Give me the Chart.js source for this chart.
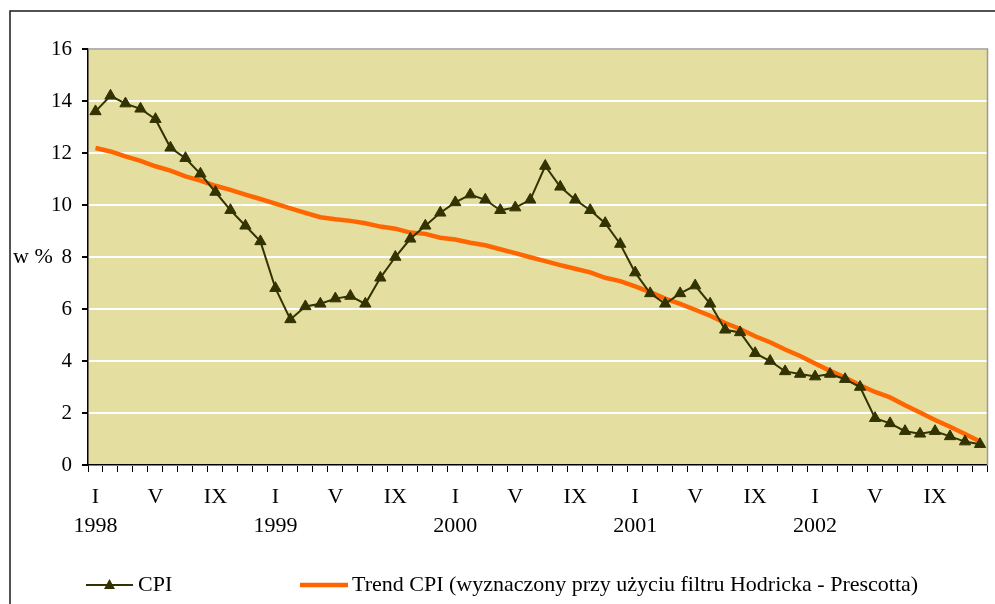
<!DOCTYPE html>
<html>
<head>
<meta charset="utf-8">
<script src="https://cdn.jsdelivr.net/npm/chart.js@4/dist/chart.umd.min.js"></script>
<style>
  html, body { margin: 0; padding: 0; background: #fff; }
  #cpi-chart { display: block; }
</style>
</head>
<body>
<canvas id="cpi-chart" width="995" height="604"></canvas>
<script>
var years = ['1998', '1999', '2000', '2001', '2002'];
var romanMonths = ['I', 'II', 'III', 'IV', 'V', 'VI', 'VII', 'VIII', 'IX', 'X', 'XI', 'XII'];
var shownMonths = ['I', 'V', 'IX'];
var yTicks = [0, 2, 4, 6, 8, 10, 12, 14, 16];

var seriesNames = ['CPI', 'Trend CPI (wyznaczony przy użyciu filtru Hodricka - Prescotta)'];

var cpiValues = [
  13.6, 14.2, 13.9, 13.7, 13.3, 12.2, 11.8, 11.2, 10.5, 9.8, 9.2, 8.6,
  6.8, 5.6, 6.1, 6.2, 6.4, 6.5, 6.2, 7.2, 8.0, 8.7, 9.2, 9.7,
  10.1, 10.4, 10.2, 9.8, 9.9, 10.2, 11.5, 10.7, 10.2, 9.8, 9.3, 8.5,
  7.4, 6.6, 6.2, 6.6, 6.9, 6.2, 5.2, 5.1, 4.3, 4.0, 3.6, 3.5,
  3.4, 3.5, 3.3, 3.0, 1.8, 1.6, 1.3, 1.2, 1.3, 1.1, 0.9, 0.8
];

var trendValues = [
  12.19, 12.06, 11.87, 11.70, 11.49, 11.32, 11.10, 10.94, 10.74, 10.58, 10.40, 10.23,
  10.05, 9.87, 9.70, 9.53, 9.45, 9.39, 9.30, 9.17, 9.09, 8.94, 8.89, 8.74,
  8.67, 8.55, 8.45, 8.30, 8.15, 7.99, 7.84, 7.69, 7.55, 7.41, 7.20, 7.07,
  6.87, 6.65, 6.40, 6.20, 5.97, 5.74, 5.46, 5.23, 4.95, 4.72, 4.44, 4.19,
  3.90, 3.62, 3.36, 3.07, 2.81, 2.60, 2.30, 2.02, 1.73, 1.47, 1.19, 0.90
];

(function () {
  var SERIF = "'Liberation Serif', 'Times New Roman', serif";
  var CPI_COLOR = '#333300';
  var TREND_COLOR = '#FF6600';
  var PLOT_BG = '#E4DEA0';

  // categories: one per month, [roman, year]
  var categories = [];
  years.forEach(function (y) {
    romanMonths.forEach(function (m) {
      categories.push([m, y]);
    });
  });

  var decorPlugin = {
    id: 'decor',
    beforeDraw: function (chart) {
      var ctx = chart.ctx;
      var a = chart.chartArea;
      ctx.save();
      ctx.fillStyle = '#fff';
      ctx.fillRect(0, 0, chart.width, chart.height);
      // outer frame (cropped on the right and bottom)
      ctx.strokeStyle = '#1a1a1a';
      ctx.lineWidth = 1.5;
      ctx.beginPath();
      ctx.moveTo(10, chart.height);
      ctx.lineTo(10, 11);
      ctx.lineTo(chart.width, 11);
      ctx.stroke();
      // plot area
      ctx.fillStyle = PLOT_BG;
      ctx.fillRect(a.left, a.top, a.right - a.left, a.bottom - a.top);
      ctx.restore();
    },
    beforeDatasetsDraw: function (chart) {
      var ctx = chart.ctx;
      var a = chart.chartArea;
      ctx.save();
      ctx.strokeStyle = '#9a9a9a';
      ctx.lineWidth = 1.5;
      ctx.beginPath();
      ctx.moveTo(a.left, a.top);
      ctx.lineTo(a.right, a.top);
      ctx.lineTo(a.right, a.bottom);
      ctx.stroke();
      ctx.restore();
    },
    afterDraw: function (chart) {
      var ctx = chart.ctx;
      var yScale = chart.scales.y;
      ctx.save();
      ctx.fillStyle = '#000';
      ctx.font = '22px ' + SERIF;
      ctx.textBaseline = 'middle';
      ctx.textAlign = 'left';
      ctx.fillText('w %', 13, yScale.getPixelForValue(8));

      // legend
      var ly = 585;
      var ds = chart.data.datasets;
      ctx.strokeStyle = ds[0].borderColor;
      ctx.lineWidth = 2;
      ctx.beginPath();
      ctx.moveTo(86, ly);
      ctx.lineTo(133, ly);
      ctx.stroke();
      ctx.fillStyle = ds[0].pointBackgroundColor;
      ctx.beginPath();
      ctx.moveTo(109.5, ly - 6);
      ctx.lineTo(115, ly + 4);
      ctx.lineTo(104, ly + 4);
      ctx.closePath();
      ctx.fill();
      ctx.fillStyle = '#000';
      ctx.fillText(ds[0].label, 138, ly);

      ctx.strokeStyle = ds[1].borderColor;
      ctx.lineWidth = 4.5;
      ctx.beginPath();
      ctx.moveTo(300, ly);
      ctx.lineTo(348, ly);
      ctx.stroke();
      ctx.fillStyle = '#000';
      ctx.fillText(ds[1].label, 352, ly);
      ctx.restore();
    }
  };

  function buildChart() {
    var canvas = document.getElementById('cpi-chart');
    new Chart(canvas.getContext('2d'), {
      type: 'line',
      data: {
        labels: categories,
        datasets: [
          {
            label: seriesNames[0],
            data: cpiValues,
            borderColor: CPI_COLOR,
            borderWidth: 2,
            pointStyle: 'triangle',
            pointRadius: 6.5,
            pointBackgroundColor: CPI_COLOR,
            pointBorderColor: CPI_COLOR,
            pointBorderWidth: 1,
            tension: 0
          },
          {
            label: seriesNames[1],
            data: trendValues,
            borderColor: TREND_COLOR,
            borderWidth: 4.5,
            pointRadius: 0,
            tension: 0
          }
        ]
      },
      options: {
        responsive: false,
        animation: false,
        layout: { padding: { left: 0, top: 49, right: 5, bottom: 0 } },
        plugins: {
          legend: { display: false },
          tooltip: { enabled: false }
        },
        scales: {
          x: {
            type: 'category',
            offset: true,
            afterFit: function (scale) { scale.height = 139; },
            grid: {
              offset: true,
              drawOnChartArea: false,
              color: '#000',
              tickLength: 7,
              lineWidth: 1
            },
            border: { color: '#000', width: 1.5 },
            ticks: {
              autoSkip: false,
              maxRotation: 0,
              minRotation: 0,
              padding: 11,
              color: '#000',
              font: { family: SERIF, size: 22, lineHeight: 29 / 22 },
              callback: function (value, index) {
                var c = categories[index];
                if (shownMonths.indexOf(c[0]) < 0) return '';
                return c[0] === 'I' ? [c[0], c[1]] : [c[0]];
              }
            }
          },
          y: {
            min: 0,
            max: 16,
            afterFit: function (scale) { scale.width = 88; },
            afterBuildTicks: function (scale) {
              scale.ticks = yTicks.map(function (v) { return { value: v }; });
            },
            grid: {
              color: '#fff',
              lineWidth: 2,
              tickColor: '#000',
              tickLength: 6
            },
            border: { color: '#000', width: 1.5 },
            ticks: {
              padding: 10,
              color: '#000',
              font: { family: SERIF, size: 21 }
            }
          }
        }
      },
      plugins: [decorPlugin]
    });
  }

  if (document.readyState === 'loading') {
    document.addEventListener('DOMContentLoaded', buildChart);
  } else {
    buildChart();
  }
})();
</script>
</body>
</html>
